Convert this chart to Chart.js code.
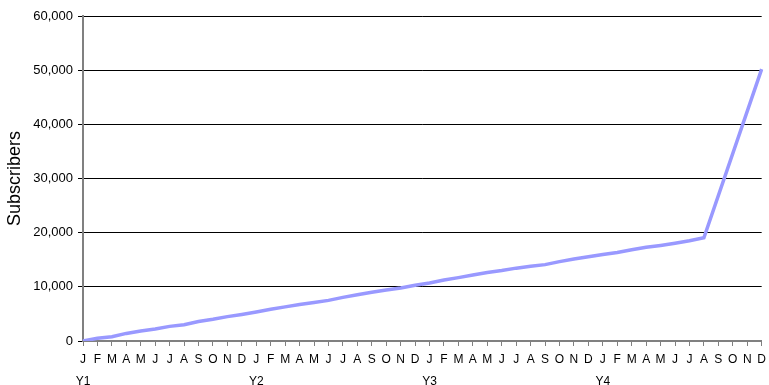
<!DOCTYPE html>
<html lang="en">
<head>
    <meta charset="UTF-8">
    <title>Subscribers</title>
    <script src="https://cdn.jsdelivr.net/npm/chart.js"></script>
    <style>
        body { margin: 0; background: #fff; }
        #subsChart { display: block; }
    </style>
</head>
<body>
    <canvas id="subsChart" width="769" height="385"></canvas>
    <script>
// month initials and the year shown under each January
const months = ['J', 'F', 'M', 'A', 'M', 'J', 'J', 'A', 'S', 'O', 'N', 'D'];
const years = ['Y1', 'Y2', 'Y3', 'Y4'];

// monthly subscriber counts, one row per year (S-N of Y4 not recorded)
const subsY1 = [0, 500, 800, 1400, 1850, 2200, 2700, 3000, 3600, 4000, 4500, 4900];
const subsY2 = [5350, 5850, 6300, 6750, 7100, 7500, 8050, 8550, 9000, 9400, 9800, 10300];
const subsY3 = [10700, 11250, 11700, 12200, 12650, 13000, 13450, 13800, 14100, 14650, 15150, 15550];
const subsY4 = [15950, 16350, 16850, 17300, 17650, 18050, 18500, 19050, null, null, null, 50200];

const yTicks = [0, 10000, 20000, 30000, 40000, 50000, 60000];

const labels = [];
years.forEach(y => {
    months.forEach((m, i) => labels.push(i === 0 ? [m, y] : [m, '']));
});
const subscribers = [].concat(subsY1, subsY2, subsY3, subsY4);

const ctx = document.getElementById('subsChart').getContext('2d');
new Chart(ctx, {
    type: 'line',
    data: {
        labels: labels,
        datasets: [{
            label: 'Subscribers',
            data: subscribers,
            borderColor: '#9999FF',
            borderWidth: 3.5,
            pointRadius: 0,
            tension: 0,
            spanGaps: true
        }]
    },
    options: {
        responsive: false,
        animation: false,
        layout: { padding: { top: 16, right: 4, left: 0, bottom: 0 } },
        plugins: {
            legend: { display: false },
            tooltip: { enabled: false }
        },
        scales: {
            x: {
                offset: false,
                border: { color: '#808080', width: 2 },
                grid: { drawOnChartArea: false, drawTicks: true, tickLength: 5, color: '#808080' },
                ticks: {
                    autoSkip: false,
                    maxRotation: 0,
                    minRotation: 0,
                    padding: 3,
                    color: '#000',
                    font: { family: 'Liberation Sans, Arial, sans-serif', size: 12, lineHeight: 1.83 }
                },
                afterFit: scale => { scale.height = 44; }
            },
            y: {
                min: 0,
                max: 60000,
                afterBuildTicks: scale => { scale.ticks = yTicks.map(v => ({ value: v })); },
                border: { color: '#808080', width: 2 },
                grid: { color: '#000', lineWidth: 1, drawTicks: true, tickLength: 5, tickColor: '#000' },
                ticks: {
                    padding: 5,
                    color: '#000',
                    font: { family: 'Liberation Sans, Arial, sans-serif', size: 13 },
                    callback: v => v.toLocaleString('en-US')
                },
                title: {
                    display: true,
                    text: 'Subscribers',
                    color: '#000',
                    padding: { top: 4, bottom: 0 },
                    font: { family: 'Liberation Sans, Arial, sans-serif', size: 18 }
                },
                afterFit: scale => { scale.width = 83; }
            }
        }
    }
});
    </script>
</body>
</html>
